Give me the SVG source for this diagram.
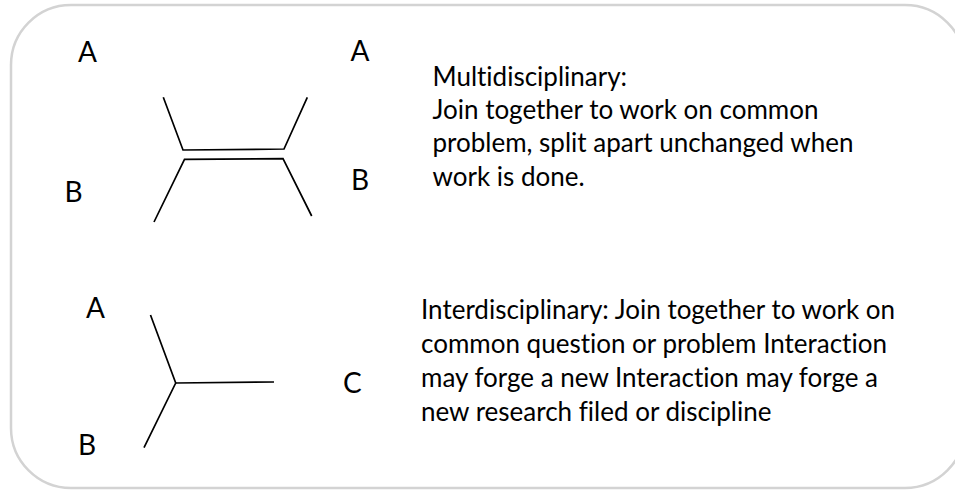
<svg xmlns="http://www.w3.org/2000/svg" width="955" height="490" viewBox="0 0 955 490">
  <style>
    .frame { fill: #ffffff; stroke: #d3d3d3; stroke-width: 2.5; }
    .edge { fill: none; stroke: #000000; stroke-width: 1.7; stroke-linecap: butt; stroke-linejoin: miter; }
    .lbl { font-family: Lato, "Open Sans", "Liberation Sans", sans-serif; font-size: 28px; fill: #000000; }
    .txt { font-family: Lato, "Open Sans", "Liberation Sans", sans-serif; font-size: 26px; fill: #000000; font-variant-ligatures: none; }
  </style>
  <rect x="0" y="0" width="955" height="490" fill="#ffffff"/>
  <!-- rounded panel, its right side running past the canvas edge -->
  <rect class="frame" x="11" y="5" width="954" height="483" rx="60" ry="60"/>

  <!-- connectors -->
  <g id="connectors">
    <!-- multidisciplinary: two strands joined side by side -->
    <polyline class="edge" points="163.3,97.3 183,150 284,149 307.3,97.3"/>
    <polyline class="edge" points="154,222 184.5,159.3 283,158.7 311.7,216"/>
    <!-- interdisciplinary: two strands merging into one -->
    <polyline class="edge" points="150.5,315 175.7,383 144,447.7"/>
    <line class="edge" x1="175.7" y1="383" x2="274" y2="382"/>
  </g>

  <!-- upper figure labels -->
  <g id="node-a1"><text class="lbl" x="78" y="62">A</text></g>
  <g id="node-a2"><text class="lbl" x="350.5" y="61">A</text></g>
  <g id="node-b1"><text class="lbl" x="64.5" y="202">B</text></g>
  <g id="node-b2"><text class="lbl" x="351" y="190">B</text></g>

  <!-- lower figure labels -->
  <g id="node-a3"><text class="lbl" x="86" y="318">A</text></g>
  <g id="node-b3"><text class="lbl" x="78" y="455">B</text></g>
  <g id="node-c"><text class="lbl" x="343" y="393">C</text></g>

  <!-- descriptions -->
  <g id="node-multi">
    <text class="txt" x="432.5">
      <tspan x="432.5" y="85.5">Multidisciplinary:</tspan>
      <tspan x="432.5" y="119">Join together to work on common</tspan>
      <tspan x="432.5" y="152.3">problem, split apart unchanged when</tspan>
      <tspan x="432.5" y="185.7">work is done.</tspan>
    </text>
  </g>
  <g id="node-inter">
    <text class="txt" x="421">
      <tspan x="421" y="319">Interdisciplinary: Join together to work on</tspan>
      <tspan x="421" y="353.2">common question or problem Interaction</tspan>
      <tspan x="421" y="387.2">may forge a new Interaction may forge a</tspan>
      <tspan x="421" y="420.7">new research filed or discipline</tspan>
    </text>
  </g>
</svg>
